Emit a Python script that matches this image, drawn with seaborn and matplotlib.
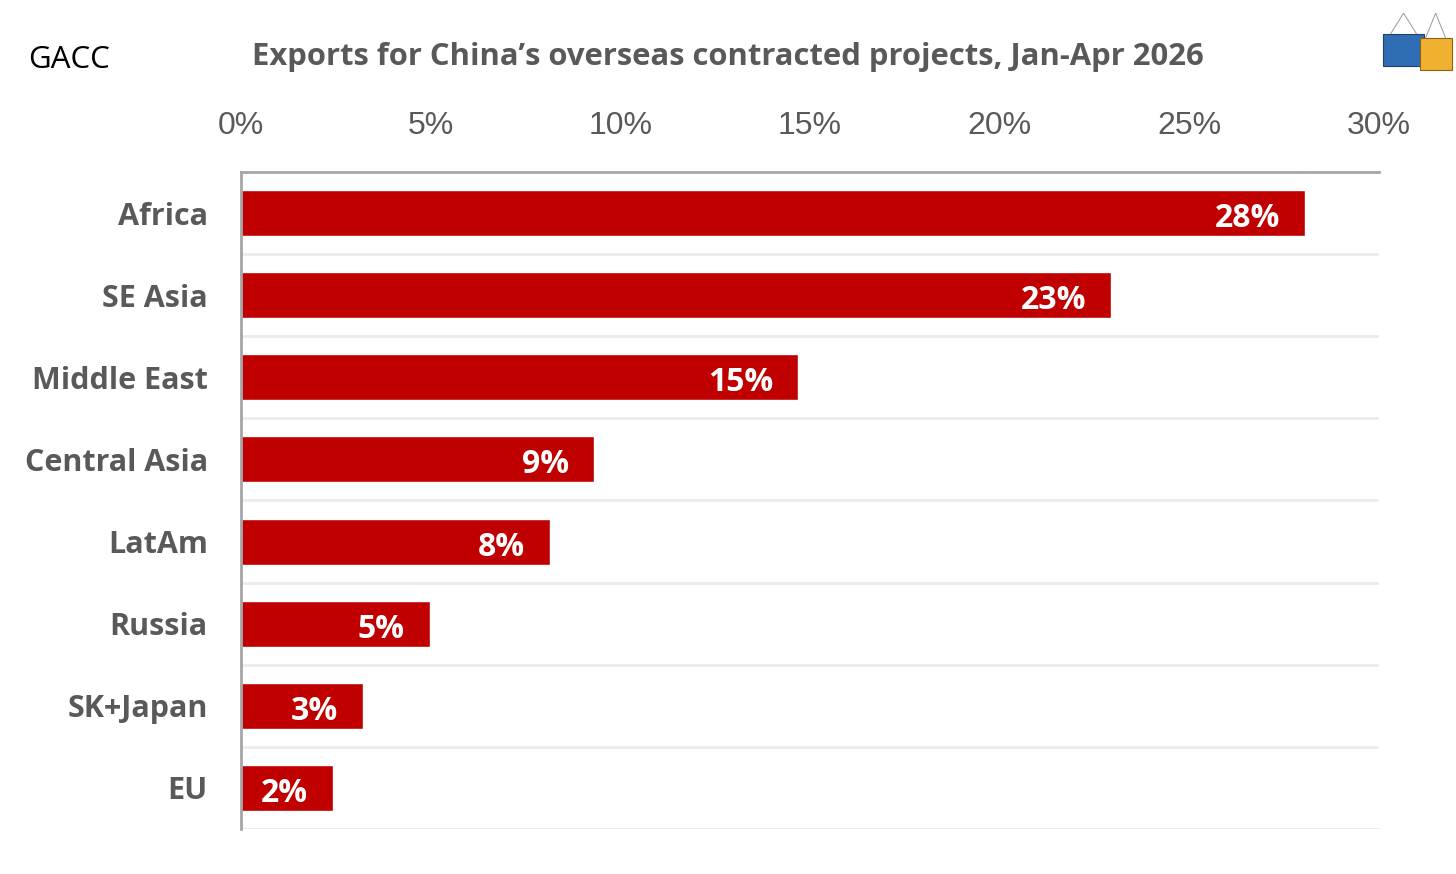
import numpy as np
import pandas as pd
import seaborn as sns
import matplotlib.pyplot as plt
from matplotlib.patches import Rectangle, Polygon

# data (share of exports, %)
regions = ["Africa", "SE Asia", "Middle East", "Central Asia", "LatAm", "Russia", "SK+Japan", "EU"]
shares = [28.05, 22.94, 14.68, 9.31, 8.15, 4.98, 3.22, 2.43]
xticks = [0, 5, 10, 15, 20, 25, 30]

df = pd.DataFrame({"region": regions, "share": shares})

sns.set_theme(style="white")
plt.rcParams['font.family'] = ['Open Sans', 'DejaVu Sans']

fig = plt.figure(figsize=(14.56, 8.74), dpi=100)
ax = fig.add_axes([0.1655, 0.0515, 0.7816, 0.7517])

sns.barplot(data=df, x="share", y="region", orient="h", color="#c00000",
            saturation=1, width=0.56, ax=ax)

ax.set_xlim(0, 30)
ax.set_ylim(len(regions) - 0.5, -0.5)
ax.xaxis.tick_top()
ax.set_xticks(xticks)
ax.set_xticklabels([f"{t}%" for t in xticks], fontsize=23, color="#595959",
                   fontfamily="Liberation Sans")
ax.tick_params(axis="x", length=0, pad=22)
ax.tick_params(axis="y", length=0, pad=24)
for lab in ax.get_yticklabels():
    lab.set_fontsize(22)
    lab.set_fontweight("bold")
    lab.set_color("#595959")
ax.set_xlabel("")
ax.set_ylabel("")

# horizontal separators between categories
for b in np.arange(0.5, len(regions), 1.0):
    ax.axhline(b, color="#ebebeb", lw=2, zorder=0)

for s in ["right", "bottom"]:
    ax.spines[s].set_visible(False)
ax.spines["top"].set_color("#a6a6a6")
ax.spines["top"].set_linewidth(2)
ax.spines["left"].set_color("#a6a6a6")
ax.spines["left"].set_linewidth(2)

# value labels inside bar ends
for i, v in enumerate(shares):
    ax.annotate(f"{round(v)}%", xy=(v, i), xytext=(-18, -4), textcoords="offset points",
                ha="right", va="center", color="white", fontsize=23, fontweight="bold")

fig.text(0.0195, 0.931, "GACC", fontsize=22.5, color="black", va="center")
fig.text(0.5, 0.935, "Exports for China\u2019s overseas contracted projects, Jan-Apr 2026",
         fontsize=22.3, fontweight="bold", color="#595959", ha="center", va="center")

# small container logo in the corner
fig.patches.append(Rectangle((0.950, 0.925), 0.028, 0.036, transform=fig.transFigure,
                             facecolor="#2f6db5", edgecolor="#1d3f6b", lw=0.8))
fig.patches.append(Rectangle((0.975, 0.92), 0.022, 0.036, transform=fig.transFigure,
                             facecolor="#f0b030", edgecolor="#8a6414", lw=0.8))
fig.patches.append(Polygon([[0.955, 0.961], [0.964, 0.985], [0.973, 0.961]], closed=False,
                           transform=fig.transFigure, fill=False, edgecolor="#999999", lw=0.7))
fig.patches.append(Polygon([[0.979, 0.956], [0.986, 0.985], [0.993, 0.956]], closed=False,
                           transform=fig.transFigure, fill=False, edgecolor="#999999", lw=0.7))

fig.savefig("out.png", dpi=100, facecolor="white")
